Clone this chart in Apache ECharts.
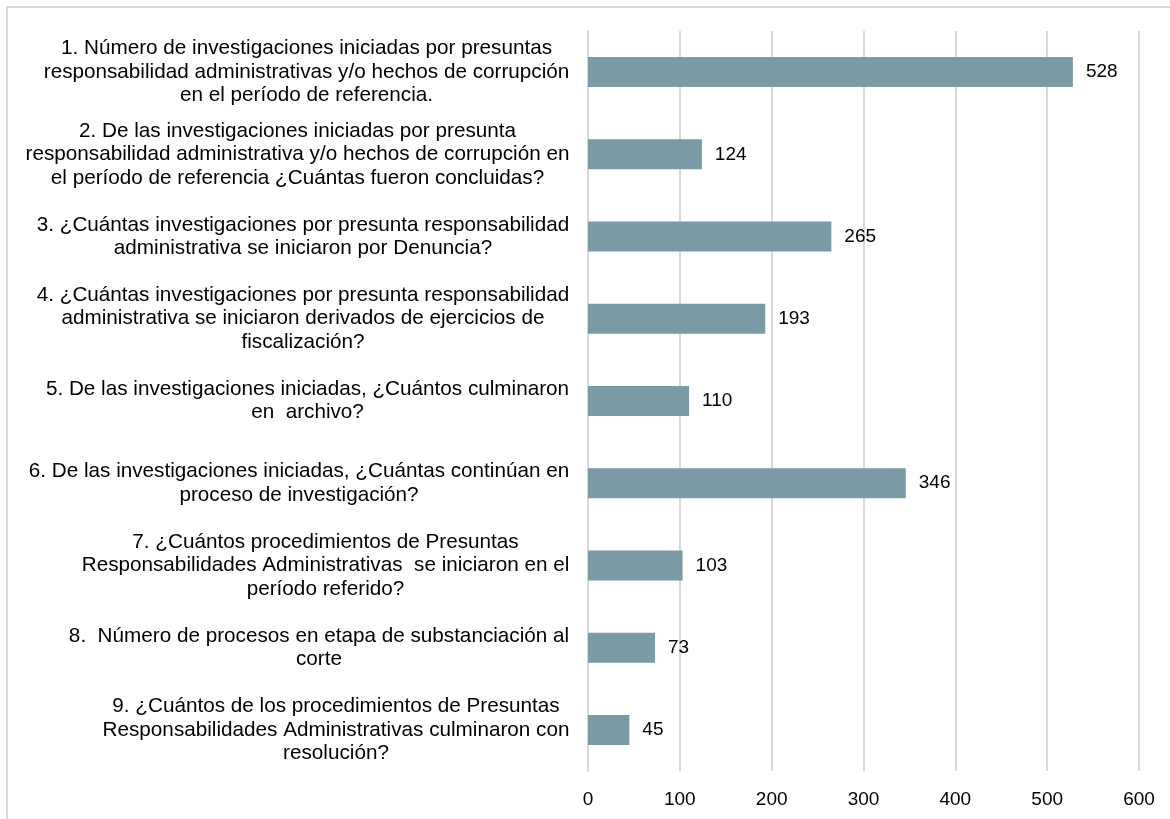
<!DOCTYPE html>
<html>
<head>
<meta charset="utf-8">
<script src="https://cdn.jsdelivr.net/npm/echarts@6/dist/echarts.min.js"></script>
<style>
html,body{margin:0;padding:0;background:#fff;overflow:hidden;}
#frame{position:absolute;left:6px;top:6px;width:1200px;height:850px;border-top:2px solid #d9d9d9;border-left:2px solid #d9d9d9;box-sizing:border-box;}
#chart{position:absolute;left:0;top:0;width:1170px;height:819px;}
</style>
</head>
<body>
<div id="frame"></div>
<div id="chart"></div>
<script>
const categories = [
  "1. Número de investigaciones iniciadas por presuntas\nresponsabilidad administrativas y/o hechos de corrupción\nen el período de referencia.",
  "2. De las investigaciones iniciadas por presunta\nresponsabilidad administrativa y/o hechos de corrupción en\nel período de referencia ¿Cuántas fueron concluidas?",
  "3. ¿Cuántas investigaciones por presunta responsabilidad\nadministrativa se iniciaron por Denuncia?",
  "4. ¿Cuántas investigaciones por presunta responsabilidad\nadministrativa se iniciaron derivados de ejercicios de\nfiscalización?",
  "5. De las investigaciones iniciadas, ¿Cuántos culminaron\nen  archivo?",
  "6. De las investigaciones iniciadas, ¿Cuántas continúan en\nproceso de investigación?",
  "7. ¿Cuántos procedimientos de Presuntas\nResponsabilidades Administrativas  se iniciaron en el\nperíodo referido?",
  "8.  Número de procesos en etapa de substanciación al\ncorte",
  "9. ¿Cuántos de los procedimientos de Presuntas\nResponsabilidades Administrativas culminaron con\nresolución?"
];
const values = [528, 124, 265, 193, 110, 346, 103, 73, 45];
const xTicks = [0, 100, 200, 300, 400, 500, 600];

const CAT_FONT = 20.7;
const NUM_FONT = 19;
const FONT_FAMILY = "'Liberation Sans', Arial, sans-serif";
const ctx = document.createElement('canvas').getContext('2d');
ctx.font = CAT_FONT + 'px ' + FONT_FAMILY;
const rich = {};
categories.forEach((c, i) => {
  const w = Math.max(...c.split('\n').map(l => ctx.measureText(l).width));
  rich['l' + i] = {width: Math.ceil(w) + 1, align: 'center', fontSize: CAT_FONT, fontFamily: FONT_FAMILY, color: '#000', lineHeight: 23.5};
});

const chart = echarts.init(document.getElementById('chart'), null, {renderer: 'canvas'});
chart.setOption({
  backgroundColor: 'transparent',
  animation: false,
  grid: {left: 588, right: 31, top: 31, bottom: 48, containLabel: false},
  xAxis: {
    type: 'value', min: 0, max: 600, interval: 100,
    axisLine: {show: false}, axisTick: {show: false},
    splitLine: {show: true, lineStyle: {color: '#d9d9d9', width: 2}},
    axisLabel: {color: '#000', fontSize: NUM_FONT, fontFamily: FONT_FAMILY, margin: 19,
      formatter: v => xTicks.includes(v) ? String(v) : ''}
  },
  yAxis: {
    type: 'category', data: categories, inverse: true,
    axisLine: {show: true, lineStyle: {color: '#d9d9d9', width: 2}},
    axisTick: {show: false},
    axisLabel: {
      margin: 18, interval: 0,
      formatter: (v, i) => v.split('\n').map(l => '{l' + i + '|' + l + '}').join('\n'),
      rich: rich
    }
  },
  series: [{
    type: 'bar', data: values, barWidth: 30,
    itemStyle: {color: '#7a9ba5'},
    label: {show: true, position: 'right', distance: 13, color: '#000', fontSize: NUM_FONT, fontFamily: FONT_FAMILY}
  }]
});
</script>
</body>
</html>
